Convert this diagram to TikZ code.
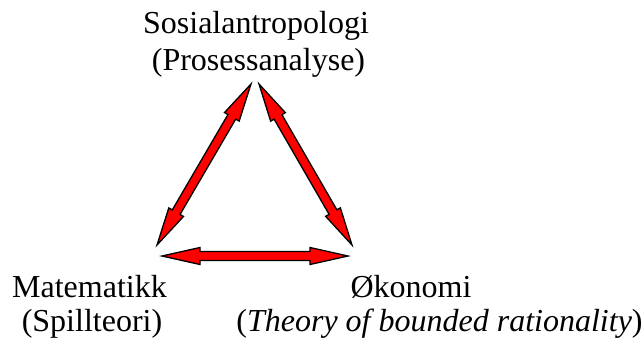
\documentclass[tikz,border=0pt]{standalone}
\usepackage{fontspec}
\setmainfont{Liberation Serif}
\usetikzlibrary{calc}
\tikzset{
  lbl/.style={anchor=base, inner sep=0pt, font=\fontsize{32}{36}\selectfont},
  blockarr/.style={fill=red, draw=black, line width=1.3pt, line join=miter}
}
\newcommand{\dblarrow}[2]{%
  \path ($(#1)!38pt!(#2)$) coordinate (pA) ($(#2)!38pt!(#1)$) coordinate (pB);
  \draw[blockarr] (#1) -- ($(pA)!8.5pt!90:(#2)$) -- ($(pA)!4.5pt!90:(#2)$)
    -- ($(pB)!4.5pt!-90:(#1)$) -- ($(pB)!8.5pt!-90:(#1)$) -- (#2)
    -- ($(pB)!8.5pt!90:(#1)$) -- ($(pB)!4.5pt!90:(#1)$)
    -- ($(pA)!4.5pt!-90:(#2)$) -- ($(pA)!8.5pt!-90:(#2)$) -- cycle;}
\begin{document}
\begin{tikzpicture}[x=1pt,y=-1pt]
\useasboundingbox (0,0) rectangle (643,340);
\node[lbl] (s1) at (256,33) {Sosialantropologi};
\node[lbl] (s2) at (258.5,70) {(Prosessanalyse)};
\node[lbl] (m1) at (89.5,297) {Matematikk};
\node[lbl] (m2) at (92,331) {(Spillteori)};
\node[lbl] (o1) at (411,297) {Økonomi};
\node[lbl] (o2) at (439.5,331) {(\textit{Theory of bounded rationality})};
\coordinate (lt) at (251,84);
\coordinate (lb) at (157,245);
\coordinate (rt) at (259,84);
\coordinate (rb) at (352,245);
\coordinate (hl) at (162,256);
\coordinate (hr) at (348,256);
\dblarrow{lt}{lb}
\dblarrow{rt}{rb}
\dblarrow{hl}{hr}
\end{tikzpicture}
\end{document}
